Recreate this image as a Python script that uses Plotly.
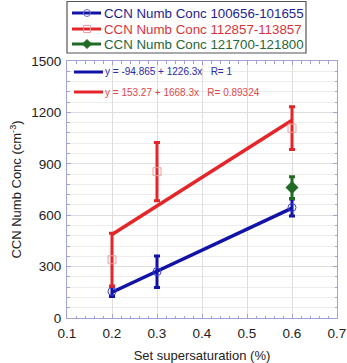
import plotly.graph_objects as go

# ---------------- data ----------------
x_sets = [0.2, 0.3, 0.6]
blue_y = [155, 270, 645]
blue_err = [30, 92, 50]
red_y = [340, 854, 1108]
red_err = [155, 170, 125]
green_x = [0.6]
green_y = [761]
green_err = [63]

series_names = ["CCN Numb Conc 100656-101655",
                "CCN Numb Conc 112857-113857",
                "CCN Numb Conc 121700-121800"]
fit_blue = (-94.865, 1226.3)
fit_red = (153.27, 1668.3)
fit_blue_text = "y = -94.865 + 1226.3x   R= 1"
fit_red_text = "y = 153.27 + 1668.3x   R= 0.89324"
fit_x = [0.2, 0.6]

x_ticks = [0.1, 0.2, 0.3, 0.4, 0.5, 0.6, 0.7]
y_ticks = [0, 300, 600, 900, 1200, 1500]

# ---------------- style ----------------
W, H = 347, 363
L, R, T, B = 67, 10, 61, 45
PW, PH = W - L - R, H - T - B
BLUE = "#1212a6"
RED = "#e4262a"
GREEN = "#1f6b25"
AXC = "#a2a2d6"
GRID = "#dedede"
FONT = "Liberation Sans, Arial, sans-serif"


def px(xp):
    return (xp - L) / PW


def py(yp):
    return (H - B - yp) / PH


fig = go.Figure()

# fit lines
fig.add_trace(go.Scatter(x=fit_x, y=[fit_blue[0] + fit_blue[1] * v for v in fit_x],
                         mode="lines", line=dict(color=BLUE, width=3.5),
                         showlegend=False, hoverinfo="skip"))
fig.add_trace(go.Scatter(x=fit_x, y=[fit_red[0] + fit_red[1] * v for v in fit_x],
                         mode="lines", line=dict(color=RED, width=3.5),
                         showlegend=False, hoverinfo="skip"))

# data with error bars
fig.add_trace(go.Scatter(x=x_sets, y=blue_y, mode="markers", name=series_names[0],
                         marker=dict(symbol="circle-open", size=8, color="#3a3ad0",
                                     line=dict(width=1)),
                         error_y=dict(type="data", array=blue_err, color=BLUE,
                                      thickness=3, width=3),
                         showlegend=False))
fig.add_trace(go.Scatter(x=x_sets, y=red_y, mode="markers", name=series_names[1],
                         marker=dict(symbol="square-open", size=8, color="#eaa0a0",
                                     line=dict(width=1)),
                         error_y=dict(type="data", array=red_err, color=RED,
                                      thickness=3, width=3),
                         showlegend=False))
fig.add_trace(go.Scatter(x=green_x, y=green_y, mode="markers", name=series_names[2],
                         marker=dict(symbol="diamond", size=10, color=GREEN),
                         error_y=dict(type="data", array=green_err, color=GREEN,
                                      thickness=3, width=3),
                         showlegend=False))

shapes = []
annotations = []

# manual legend box above plot
shapes.append(dict(type="rect", xref="paper", yref="paper",
                   x0=px(67), x1=px(306), y0=py(53), y1=py(1.5),
                   line=dict(color="#555555", width=1.2), fillcolor="white", layer="above"))
leg_rows = [13, 29, 44]
leg_colors = [BLUE, RED, GREEN]
leg_text_colors = ["#1e1e8e", "#d8343a", "#27663a"]
for i, (yy, c, tc, name) in enumerate(zip(leg_rows, leg_colors, leg_text_colors, series_names)):
    shapes.append(dict(type="line", xref="paper", yref="paper",
                       x0=px(72), x1=px(101), y0=py(yy), y1=py(yy),
                       line=dict(color=c, width=3), layer="above"))
    cx = 87
    if i == 0:
        shapes.append(dict(type="circle", xref="paper", yref="paper",
                           x0=px(cx - 3.5), x1=px(cx + 3.5), y0=py(yy + 3.5), y1=py(yy - 3.5),
                           line=dict(color="#6a6ad8", width=1), fillcolor="rgba(0,0,0,0)",
                           layer="above"))
    elif i == 1:
        shapes.append(dict(type="rect", xref="paper", yref="paper",
                           x0=px(cx - 3.5), x1=px(cx + 3.5), y0=py(yy + 3.5), y1=py(yy - 3.5),
                           line=dict(color="#eaa0a0", width=1), fillcolor="rgba(0,0,0,0)",
                           layer="above"))
    else:
        d = 4.5
        pts = [(cx, yy - d), (cx + d, yy), (cx, yy + d), (cx - d, yy)]
        path = "M " + " L ".join(f"{px(a)},{py(b)}" for a, b in pts) + " Z"
        shapes.append(dict(type="path", xref="paper", yref="paper", path=path,
                           line=dict(color=GREEN, width=1), fillcolor=GREEN, layer="above"))
    annotations.append(dict(xref="paper", yref="paper", x=px(102), y=py(yy),
                            xanchor="left", yanchor="middle", showarrow=False,
                            text=name, font=dict(family=FONT, size=13.3, color=tc)))

# fit text inside plot
for yy, c, tc, txt in [(72, BLUE, "#2a2aa8", fit_blue_text), (92, RED, "#e0484a", fit_red_text)]:
    shapes.append(dict(type="line", xref="paper", yref="paper",
                       x0=px(74), x1=px(103), y0=py(yy), y1=py(yy),
                       line=dict(color=c, width=3), layer="above"))
    annotations.append(dict(xref="paper", yref="paper", x=px(103), y=py(yy),
                            xanchor="left", yanchor="middle", showarrow=False,
                            text=txt.replace("   ", "&nbsp;&nbsp;&nbsp;"),
                            font=dict(family=FONT, size=10, color=tc)))

fig.update_layout(
    width=W, height=H,
    margin=dict(l=L, r=R, t=T, b=B, pad=0),
    paper_bgcolor="white", plot_bgcolor="white",
    font=dict(family=FONT, size=13, color="#222222"),
    shapes=shapes, annotations=annotations,
    showlegend=False,
)
fig.update_xaxes(
    range=[0.1, 0.7], tickvals=x_ticks, ticktext=[f"{v:.1f}" for v in x_ticks],
    automargin=False,
    showline=True, linecolor=AXC, linewidth=1, mirror="ticks",
    ticks="inside", ticklen=4, tickcolor=AXC,
    showgrid=True, gridcolor=GRID, gridwidth=1, zeroline=False,
    minor=dict(dtick=0.02, tick0=0.1, ticks="inside", ticklen=2.5, tickcolor=AXC, showgrid=False),
    tickfont=dict(size=13.5, color="#222222"),
    ticklabelstandoff=3,
    title=dict(text="Set supersaturation (%)", font=dict(size=13, color="#222222"), standoff=10),
)
fig.update_yaxes(
    range=[0, 1500], tickvals=y_ticks,
    automargin=False,
    showline=True, linecolor=AXC, linewidth=1, mirror="ticks",
    ticks="inside", ticklen=4, tickcolor=AXC,
    showgrid=True, gridcolor=GRID, gridwidth=1, zeroline=False,
    minor=dict(dtick=60, tick0=0, ticks="inside", ticklen=2.5, tickcolor=AXC,
               showgrid=True, gridcolor="#ececec", gridwidth=1),
    tickfont=dict(size=13.5, color="#222222"),
    ticklabelstandoff=2,
    title=dict(text="CCN Numb Conc (cm<sup>-3</sup>)", font=dict(size=13, color="#222222"), standoff=6),
)

fig.write_html("out.html")
